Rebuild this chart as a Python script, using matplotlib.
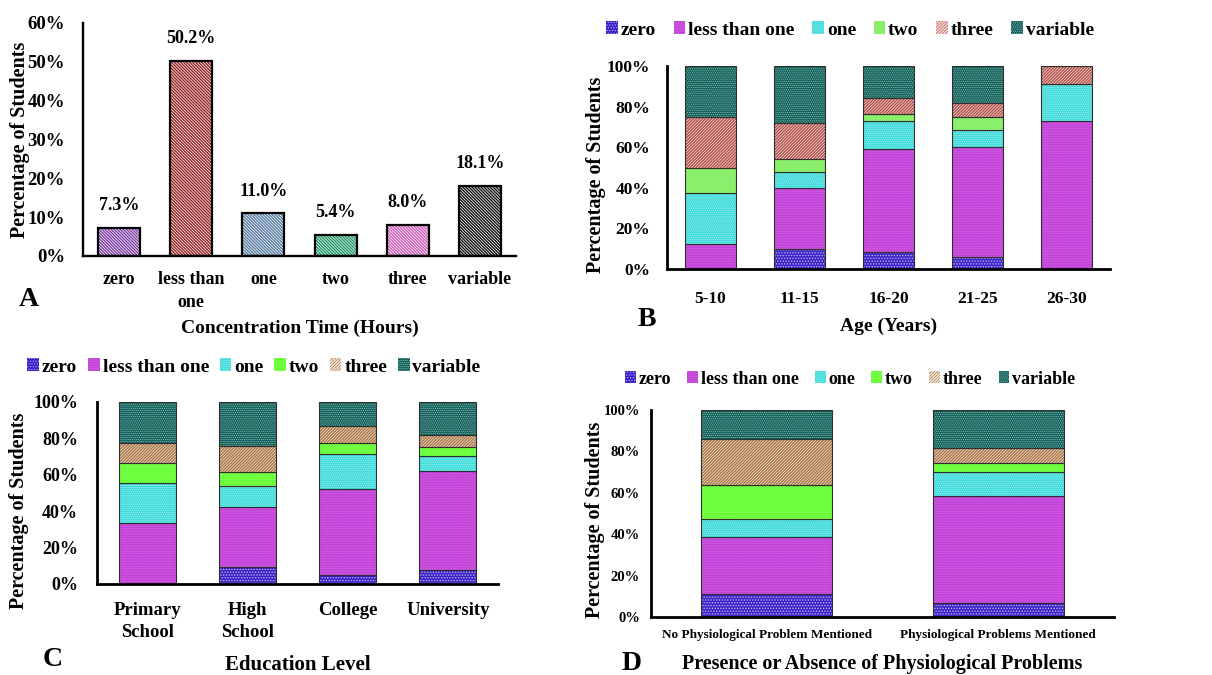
import matplotlib
matplotlib.use("Agg")
import matplotlib.pyplot as plt
from matplotlib.patches import Patch
from matplotlib.ticker import PercentFormatter, MultipleLocator
import numpy as np

# ---------------- data ----------------
hours = ["zero", "less than one", "one", "two", "three", "variable"]
hour_ticklabels = ["zero", "less than\none", "one", "two", "three", "variable"]
overall_pct = [7.3, 50.2, 11.0, 5.4, 8.0, 18.1]

age_groups = ["5-10", "11-15", "16-20", "21-25", "26-30"]
age_zero = [0.0, 10.0, 8.3, 5.9, 0.0]
age_less_than_one = [12.5, 29.8, 50.6, 54.3, 72.7]
age_one = [25.0, 7.8, 13.8, 8.5, 18.2]
age_two = [12.5, 6.4, 3.9, 6.4, 0.0]
age_three = [25.0, 17.8, 7.5, 6.7, 9.1]
age_variable = [25.0, 28.2, 15.9, 18.2, 0.0]

edu_levels = ["Primary\nSchool", "High\nSchool", "College", "University"]
edu_zero = [0.0, 9.3, 4.7, 7.7]
edu_less_than_one = [33.3, 33.2, 47.3, 54.2]
edu_one = [22.2, 11.1, 19.7, 8.7]
edu_two = [11.1, 7.7, 6.0, 4.8]
edu_three = [11.1, 14.4, 9.3, 6.7]
edu_variable = [22.3, 24.3, 13.0, 17.9]

phys_groups = ["No Physiological Problem Mentioned", "Physiological Problems Mentioned"]
phys_zero = [10.9, 6.8]
phys_less_than_one = [27.6, 51.8]
phys_one = [8.7, 11.4]
phys_two = [16.6, 4.4]
phys_three = [22.2, 7.1]
phys_variable = [14.0, 18.5]

# ---------------- styles ----------------
W, H = 1212, 675
plt.rcParams['font.family'] = ['Liberation Serif', 'DejaVu Serif']
plt.rcParams['font.weight'] = 'bold'
plt.rcParams['axes.labelweight'] = 'bold'

overall_colors = ['#7a38a0', '#941e1e', '#55799f', '#17915f', '#cc58b6', '#101010']

stack_styles_b = [
    dict(face='#3a20c8', hc=(1, 1, 1, 0.65), hatch='.' * 6, hlw=0.7),
    dict(face='#c23cd8', hc=(1, 1, 1, 0.3), hatch='.' * 10, hlw=0.45),
    dict(face='#40dcdc', hc=(1, 1, 1, 0.5), hatch='.' * 8, hlw=0.5),
    dict(face='#84ee62', hc=(1, 1, 1, 0.25), hatch='.' * 8, hlw=0.5),
    dict(face='#f7e4e2', hc='#b04a44', hatch='/' * 11, hlw=1.0),
    dict(face='#11625b', hc=(1, 1, 1, 0.55), hatch='.' * 8, hlw=0.5),
]
stack_styles_cd = [dict(s) for s in stack_styles_b]
stack_styles_cd[3]['face'] = '#66ff33'
stack_styles_cd[4] = dict(face='#f8eee2', hc='#a46e3e', hatch='/' * 11, hlw=1.0)

fig = plt.figure(figsize=(W / 100, H / 100), dpi=100)


def add_axes(box):
    L, T, R, B = box
    return fig.add_axes([L / W, 1 - B / H, (R - L) / W, (B - T) / H])


def style_axes(ax, ysize, xsize, ypad, xpad, spine_lw):
    for s in ('top', 'right'):
        ax.spines[s].set_visible(False)
    for s in ('left', 'bottom'):
        ax.spines[s].set_linewidth(spine_lw)
        ax.spines[s].set_color('black')
    ax.tick_params(length=0)
    ax.tick_params(axis='y', labelsize=ysize, pad=ypad)
    ax.tick_params(axis='x', labelsize=xsize, pad=xpad)
    ax.yaxis.set_major_formatter(PercentFormatter(decimals=0))


def place_labels(ax, box, xlabel_y, ylabel_x, ylabel_y):
    L, T, R, B = box
    ax.xaxis.set_label_coords(0.5, (B - xlabel_y) / (B - T))
    ax.xaxis.label.set_va('center')
    ax.yaxis.set_label_coords((ylabel_x - L) / (R - L), (B - ylabel_y) / (B - T))
    ax.yaxis.label.set_va('center')


def stacked(ax, x, series, styles, width):
    bottom = np.zeros(len(x))
    for vals, st in zip(series, styles):
        vals = np.asarray(vals, dtype=float)
        plt.rcParams['hatch.linewidth'] = st['hlw']
        ax.bar(x, vals, width, bottom=bottom, color=st['face'],
               edgecolor=st['hc'], hatch=st['hatch'], linewidth=0)
        ax.bar(x, vals, width, bottom=bottom, fill=False,
               edgecolor='#2e2e2e', linewidth=0.8)
        bottom += vals


def legend_handles(styles):
    handles = []
    for st in styles:
        plt.rcParams['hatch.linewidth'] = st['hlw']
        handles.append(Patch(facecolor=st['face'], edgecolor=st['hc'],
                             hatch=st['hatch'], linewidth=0))
    return handles


def add_legend(ax, styles, cx, cy, size, colspace):
    ax.legend(legend_handles(styles), hours, loc='center', ncol=6,
              bbox_to_anchor=(cx / W, 1 - cy / H), bbox_transform=fig.transFigure,
              frameon=False, fontsize=size, handlelength=0.6, handleheight=0.6,
              handletextpad=0.15, columnspacing=colspace, borderpad=0)


# ---------------- A: overall concentration time ----------------
box_a = (83, 22.7, 516, 256)
ax = add_axes(box_a)
xa = np.arange(len(hours))
for xi, v, c in zip(xa, overall_pct, overall_colors):
    plt.rcParams['hatch.linewidth'] = 1.0
    ax.bar(xi, v, 0.58, color='white', edgecolor=c, hatch='\\' * 11, linewidth=0)
    ax.bar(xi, v, 0.58, fill=False, edgecolor='black', linewidth=1.6)
    ax.annotate(f"{v:.1f}%", (xi, v), xytext=(0, 16), textcoords='offset points',
                ha='center', va='center', fontsize=13, fontweight='bold')
ax.set_xlim(-0.5, len(hours) - 0.5)
ax.set_ylim(0, 60)
ax.yaxis.set_major_locator(MultipleLocator(10))
ax.set_xticks(xa, hour_ticklabels, linespacing=1.45)
style_axes(ax, 13.5, 13, 13, 11, 1.7)
ax.set_xlabel("Concentration Time (Hours)", fontsize=14)
ax.set_ylabel("Percentage of Students", fontsize=14.5)
place_labels(ax, box_a, 328, 19.5, 139.5)
fig.text(29 / W, 1 - 299 / H, "A", fontsize=20, fontweight='bold', ha='center', va='center')

# ---------------- B: by age ----------------
box_b = (667, 66, 1110, 269)
ax = add_axes(box_b)
xb = np.arange(len(age_groups))
stacked(ax, xb, [age_zero, age_less_than_one, age_one, age_two, age_three, age_variable],
        stack_styles_b, 0.57)
ax.set_xlim(-0.49, len(age_groups) - 0.51)
ax.set_ylim(0, 100)
ax.yaxis.set_major_locator(MultipleLocator(20))
ax.set_xticks(xb, age_groups)
style_axes(ax, 12.5, 12.5, 12, 15.5, 2.0)
ax.set_xlabel("Age (Years)", fontsize=14)
ax.set_ylabel("Percentage of Students", fontsize=14.5)
place_labels(ax, box_b, 326, 596, 174.5)
add_legend(ax, stack_styles_b, 850, 30, 14, 0.9)
fig.text(647 / W, 1 - 320 / H, "B", fontsize=20, fontweight='bold', ha='center', va='center')

# ---------------- C: by education level ----------------
box_c = (97, 402, 498, 584)
ax = add_axes(box_c)
xc = np.arange(len(edu_levels))
stacked(ax, xc, [edu_zero, edu_less_than_one, edu_one, edu_two, edu_three, edu_variable],
        stack_styles_cd, 0.57)
ax.set_xlim(-0.5, len(edu_levels) - 0.5)
ax.set_ylim(0, 100)
ax.yaxis.set_major_locator(MultipleLocator(20))
ax.set_xticks(xc, edu_levels, linespacing=1.4)
style_axes(ax, 13, 13.5, 13.5, 13, 2.0)
ax.set_xlabel("Education Level", fontsize=15)
ax.set_ylabel("Percentage of Students", fontsize=14.5)
place_labels(ax, box_c, 665, 19, 510.5)
add_legend(ax, stack_styles_cd, 254, 367, 14, 0.55)
fig.text(53 / W, 1 - 659 / H, "C", fontsize=20, fontweight='bold', ha='center', va='center')

# ---------------- D: physiological problems ----------------
box_d = (651, 410, 1114, 617)
ax = add_axes(box_d)
xd = np.arange(len(phys_groups))
stacked(ax, xd, [phys_zero, phys_less_than_one, phys_one, phys_two, phys_three, phys_variable],
        stack_styles_cd, 0.567)
ax.set_xlim(-0.5, len(phys_groups) - 0.5)
ax.set_ylim(0, 100)
ax.yaxis.set_major_locator(MultipleLocator(20))
ax.set_xticks(xd, phys_groups)
style_axes(ax, 10.5, 9.5, 8, 8.5, 2.0)
ax.set_xlabel("Presence or Absence of Physiological Problems", fontsize=14.5)
ax.set_ylabel("Percentage of Students", fontsize=14.5)
place_labels(ax, box_d, 664, 595, 519.5)
add_legend(ax, stack_styles_cd, 850, 379, 13, 0.9)
fig.text(632 / W, 1 - 663 / H, "D", fontsize=20, fontweight='bold', ha='center', va='center')

fig.savefig("out.png", dpi=100, facecolor='white')
